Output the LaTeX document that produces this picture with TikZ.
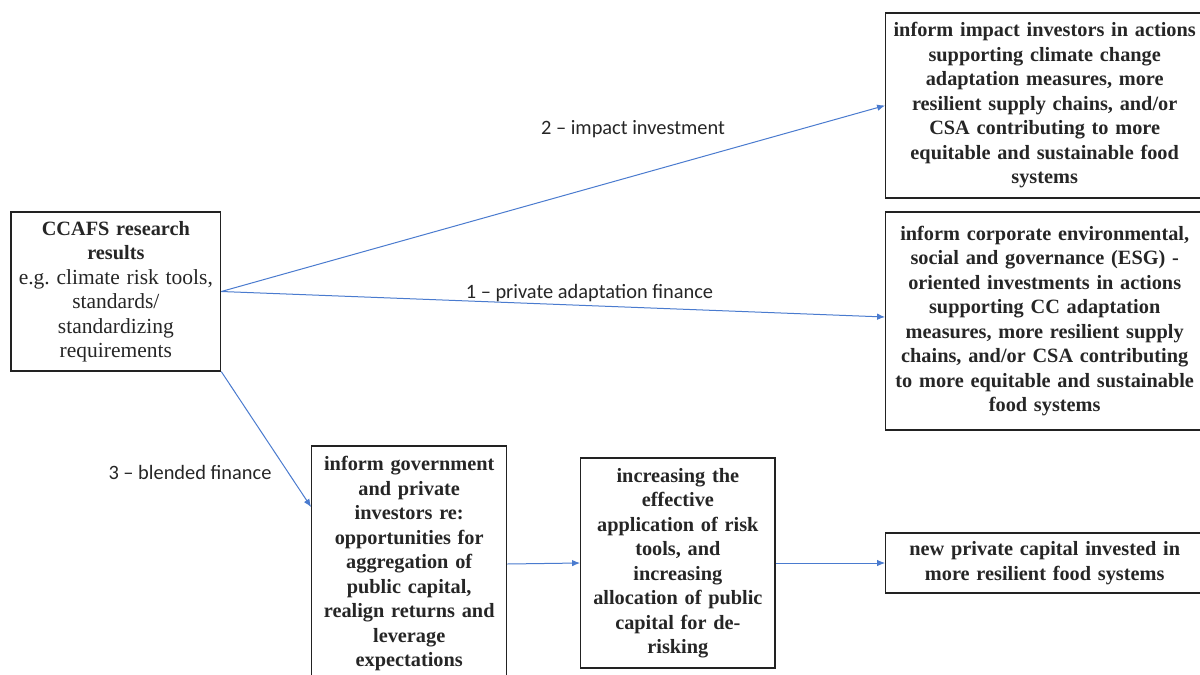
\documentclass[tikz,border=0pt]{standalone}
\usepackage{fontspec}
\setmainfont{Liberation Serif}
\newfontfamily\labelfont{Carlito}
\usetikzlibrary{positioning,arrows.meta,calc}
\definecolor{flowBlue}{HTML}{4A7BCF}
\definecolor{boxStroke}{HTML}{222222}
\definecolor{boxText}{HTML}{262626}

\begin{document}
\begin{tikzpicture}[
  x=1pt, y=-1pt,
  box/.style ={draw=boxStroke, line width=1.2pt, fill=white, inner sep=0pt, align=center, text=boxText, font=\fontsize{20.3}{24.5}\selectfont\bfseries},
  flow/.style={-{Latex[length=8pt,width=6.5pt]}, draw=flowBlue, line width=1pt},
  lbl/.style ={font=\labelfont\fontsize{20.4}{24}\selectfont, text=boxText, inner sep=0pt},
]
\useasboundingbox (0,0) rectangle (1200,675);
\clip (0,0) rectangle (1200,675);
\fill[white] (0,0) rectangle (1200,675);

% ==================== source ====================
\node[box, text width=204pt, minimum width=209.7pt, minimum height=159pt] (ccafs) at (115.85,291.5)
  {CCAFS research\\results\\\mdseries\fontsize{21.5}{24.5}\selectfont e.g.\ climate risk tools,\\standards/\\standardizing\\requirements};

% ==================== right column: outcomes ====================
\node[box, text width=310pt, minimum width=318pt, minimum height=185pt] (impact) at (1044.7,105.5)
  {inform impact investors in actions\\supporting climate change\\adaptation measures, more\\resilient supply chains, and/or\\CSA contributing to more\\equitable and sustainable food\\systems};
\node[box, text width=310pt, minimum width=318pt, minimum height=218pt] (esg) at (1044.7,321)
  {inform corporate environmental,\\social and governance (ESG) -\\oriented investments in actions\\supporting CC adaptation\\measures, more resilient supply\\chains, and/or CSA contributing\\to more equitable and sustainable\\food systems};
\node[box, text width=310pt, minimum width=318pt, minimum height=60pt] (newcap) at (1044.7,563)
  {new private capital invested in\\more resilient food systems};

% ==================== blended finance chain ====================
\node[box, text width=188pt, minimum width=195pt, minimum height=236pt] (gov) at (409.2,564)
  {inform government\\and private\\investors re:\\opportunities for\\aggregation of\\public capital,\\realign returns and\\leverage\\expectations};
\node[box, text width=188pt, minimum width=194.3pt, minimum height=210pt] (inc) at (677.85,563)
  {increasing the\\effective\\application of risk\\tools, and\\increasing\\allocation of public\\capital for de-\\risking};

% Arrows
\draw[flow] (ccafs.east) -- (impact.west);
\draw[flow] (ccafs.east) -- ([yshift=4pt]esg.west);
\draw[flow] (ccafs.south east) -- ($(gov.north west)!0.26!(gov.south west)$);
\draw[flow] (gov.east) -- (inc.west);
\draw[flow] (inc.east) -- (newcap.west);

% Route labels
\node[lbl] (l2) at (633,129) {2 – impact investment};
\node[lbl] (l1) at (589.5,293) {1 – private adaptation finance};
\node[lbl] (l3) at (190,472) {3 – blended finance};

\end{tikzpicture}
\end{document}
